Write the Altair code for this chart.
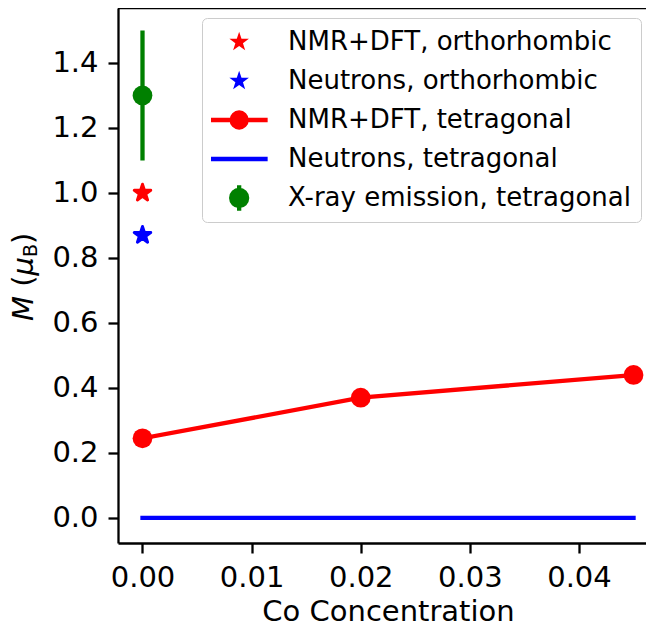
import math
import altair as alt
import pandas as pd

# ---------------- data ----------------
nmr_tet_x = [0.0, 0.02, 0.045]
nmr_tet_y = [0.245, 0.37, 0.44]
neu_tet_x = [0.0, 0.045]
neu_tet_y = [0.0, 0.0]
nmr_ortho_x = [0.0]
nmr_ortho_y = [1.0]
neu_ortho_x = [0.0]
neu_ortho_y = [0.87]
xray_x = [0.0]
xray_y = [1.3]
xray_lo = [1.1]
xray_hi = [1.5]

labels = ["NMR+DFT, orthorhombic", "Neutrons, orthorhombic",
          "NMR+DFT, tetragonal", "Neutrons, tetragonal",
          "X-ray emission, tetragonal"]
colors = ["#ff0000", "#0000ff", "#ff0000", "#0000ff", "#008000"]
stroke_colors = ["transparent", "transparent", "#ff0000", "#0000ff", "#008000"]

x_ticks = [0.0, 0.01, 0.02, 0.03, 0.04]
y_ticks = [0.0, 0.2, 0.4, 0.6, 0.8, 1.0, 1.2, 1.4]
x_domain = [-0.002245, 0.046142]
y_domain = [-0.077, 1.569]

W, H = 528, 535
FONT = "DejaVu Sans"


def star_path(R, r, cx=0.0):
    pts = []
    for k in range(10):
        ang = -math.pi / 2 + k * math.pi / 5
        rad = R if k % 2 == 0 else r
        pts.append(f"{cx + rad * math.cos(ang):.4f},{rad * math.sin(ang):.4f}")
    return "M" + "L".join(pts) + "Z"


def circ(r, cx=0.0):
    return (f"M{cx + r:.4f},0A{r},{r},0,1,1,{cx - r:.4f},0"
            f"A{r},{r},0,1,1,{cx + r:.4f},0Z")


S = -0.1  # horizontal shift of legend symbols (in symbol units)
plot_star = star_path(1.0, 0.382)
leg_star = star_path(0.36, 0.14, S)
leg_line = f"M{-1 + S:.3f},0L{1 + S:.3f},0"
leg_shapes = [leg_star, leg_star,
              leg_line + circ(0.263, S),
              leg_line,
              f"M{S},-0.45L{S},0.45" + circ(0.28, S)]

xs = alt.Scale(domain=x_domain, nice=False, zero=False)
ys = alt.Scale(domain=y_domain, nice=False, zero=False)

x_axis = alt.Axis(values=x_ticks, format=".2f", title="Co Concentration",
                  titleY=77, titleX=270, titleBaseline="alphabetic", labelFlush=False)
y_axis = alt.Axis(values=y_ticks, format=".1f", title="", labelFlush=False)


def X(field="x"):
    return alt.X(f"{field}:Q", scale=xs, axis=x_axis)


def Y(field="y"):
    return alt.Y(f"{field}:Q", scale=ys, axis=y_axis)


neu_line = alt.Chart(pd.DataFrame({"x": neu_tet_x, "y": neu_tet_y})).mark_line(
    color="#0000ff", strokeWidth=4.3, strokeCap="square"
).encode(x=X(), y=Y())

nmr_df = pd.DataFrame({"x": nmr_tet_x, "y": nmr_tet_y})
nmr_line = alt.Chart(nmr_df).mark_line(
    color="#ff0000", strokeWidth=4.3, strokeCap="square"
).encode(x=X(), y=Y())
nmr_pts = alt.Chart(nmr_df).mark_point(
    filled=True, color="#ff0000", opacity=1, size=390, shape="circle"
).encode(x=X(), y=Y())

star_r = alt.Chart(pd.DataFrame({"x": nmr_ortho_x, "y": nmr_ortho_y})).mark_point(
    filled=True, color="#ff0000", stroke="#ff0000", strokeWidth=2.9, strokeJoin="round",
    opacity=1, size=303, shape=plot_star
).encode(x=X(), y=Y())
star_b = alt.Chart(pd.DataFrame({"x": neu_ortho_x, "y": neu_ortho_y})).mark_point(
    filled=True, color="#0000ff", stroke="#0000ff", strokeWidth=2.9, strokeJoin="round",
    opacity=1, size=303, shape=plot_star
).encode(x=X(), y=Y())

xray_df = pd.DataFrame({"x": xray_x, "y": xray_y, "lo": xray_lo, "hi": xray_hi})
xray_bar = alt.Chart(xray_df).mark_rule(color="#008000", strokeWidth=4.3).encode(
    x=X(), y=Y("lo"), y2="hi")
xray_pt = alt.Chart(xray_df).mark_point(
    filled=True, color="#008000", opacity=1, size=390, shape="circle"
).encode(x=X(), y=Y())

leg = alt.Legend(
    title=None, orient="none", legendX=84, legendY=10,
    padding=9, rowPadding=9, clipHeight=30, symbolSize=3249,
    symbolStrokeWidth=4.3,
    labelFontSize=26, labelFont=FONT, labelColor="black", labelOffset=15,
    labelLimit=500,
    fillColor="rgba(255,255,255,0.8)", strokeColor="#cccccc", cornerRadius=5,
)

leg_df = pd.DataFrame({"series": labels, "x": [0.0] * len(labels), "y": [0.0] * len(labels)})
legend_layer = alt.Chart(leg_df).transform_filter("false").mark_point(
    filled=True, opacity=1, size=3249
).encode(
    x=X(), y=Y(),
    color=alt.Color("series:N", scale=alt.Scale(domain=labels, range=colors), legend=leg),
    stroke=alt.Stroke("series:N", scale=alt.Scale(domain=labels, range=stroke_colors), legend=leg),
    shape=alt.Shape("series:N", scale=alt.Scale(domain=labels, range=leg_shapes), legend=leg),
)

# top spine of the frame
top_spine = alt.Chart(alt.Data(values=[{}])).mark_rule(
    color="black", strokeWidth=2.3
).encode(x=alt.value(0), x2=alt.value(W), y=alt.value(0))

# y-axis title "M (mu_B)" built from pieces (italic M, italic mu, subscript B)
title_pieces = [("M", "italic", 29, 0.0, 25.0 + 9.2),
                ("(", "normal", 29, 0.0, 11.3),
                ("\u03bc", "italic", 29, 0.0, 18.4),
                ("B", "normal", 19, 4.0, 13.0),
                (")", "normal", 29, 0.0, 11.3)]
title_layers = []
ypos = 313.0
for txt, style, size, drop, adv in title_pieces:
    title_layers.append(
        alt.Chart(alt.Data(values=[{}])).mark_text(
            text=txt, angle=270, align="left", baseline="alphabetic",
            font=FONT, fontSize=size, fontStyle=style, color="black"
        ).encode(x=alt.value(-85 + drop), y=alt.value(ypos))
    )
    ypos -= adv

chart = alt.layer(
    star_r, star_b, nmr_line, nmr_pts, neu_line, xray_bar, xray_pt, legend_layer,
    top_spine, *title_layers
).properties(
    width=W, height=H,
    autosize=alt.AutoSizeParams(type="none"),
    padding={"left": 110, "top": 0, "right": 0, "bottom": 78},
).configure_view(strokeWidth=0).configure_axis(
    domainColor="black", domainWidth=2.3, tickColor="black", tickWidth=2.3,
    tickSize=10, labelFont=FONT, labelFontSize=29, labelColor="black",
    labelPadding=10, titleFont=FONT, titleFontSize=29, titleFontWeight="normal",
    titleColor="black", grid=False,
)

chart.save("out.html", embed_options={"renderer": "svg", "actions": False})
